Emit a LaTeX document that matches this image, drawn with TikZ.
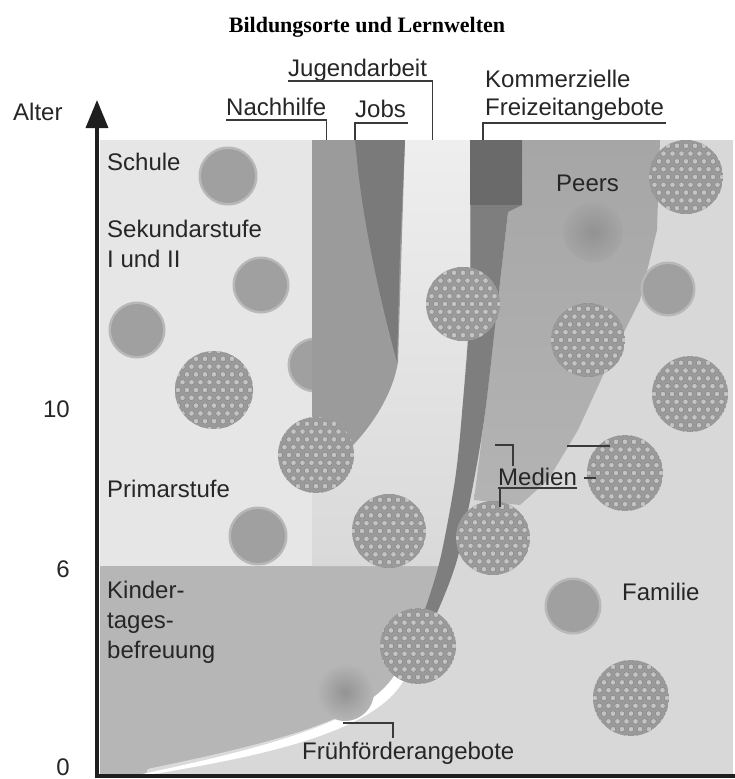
\documentclass[tikz,border=0pt]{standalone}
\usepackage{fontspec}
\setmainfont{Liberation Sans}
\newfontfamily\titlefont{Liberation Serif}
\usetikzlibrary{arrows.meta}
\definecolor{famil}{HTML}{D8D8D8}
\definecolor{schule}{HTML}{E6E6E6}
\definecolor{kita}{HTML}{B6B6B6}
\definecolor{jugtop}{HTML}{EEEEEE}
\definecolor{jugbot}{HTML}{D9D9D9}
\definecolor{nach}{HTML}{9B9B9B}
\definecolor{jobs}{HTML}{7A7A7A}
\definecolor{darktop}{HTML}{6A6A6A}
\definecolor{darkband}{HTML}{7E7E7E}
\definecolor{peers}{HTML}{A6A6A6}
\definecolor{ballplain}{HTML}{A0A0A0}
\definecolor{ballbase}{HTML}{9A9A9A}
\definecolor{hole}{HTML}{C4C4C4}
\definecolor{holeline}{HTML}{8A8A8A}
\definecolor{txt}{HTML}{262626}
\definecolor{ldr}{HTML}{3A3A3A}
\definecolor{axiscol}{HTML}{1E1E1E}
\newcommand\dotball[3]{%
  \begin{scope}
    \clip (#1,#2) circle[radius=#3];
    \fill[ballbase] (#1,#2) circle[radius=#3];
    \foreach \i in {-5,...,5}{
      \foreach \j in {-5,...,5}{
        \filldraw[fill=hole, draw=holeline, line width=0.6pt]
          ({#1+\i*9+4.5*mod(\j,2)},{#2+\j*7.8}) circle[radius=2.8];
      }}
  \end{scope}}
\newcommand\plainball[3]{%
  \fill[ballplain!75!white] (#1,#2) circle[radius=#3+1.5];
  \fill[ballplain] (#1,#2) circle[radius=#3-1];}
\begin{document}
\begin{tikzpicture}[x=1pt,y=-1pt,
  lbl/.style={font=\fontsize{24}{28}\selectfont, inner sep=0pt, anchor=base west, text=txt},
  leader/.style={draw=ldr, line width=1.1pt}]
\useasboundingbox (0,0) rectangle (735,779);
\fill[white] (0,0) rectangle (735,779);
\coordinate (topline) at (0,140);

\node[font=\titlefont\bfseries\fontsize{22}{26}\selectfont, anchor=base, text=black, inner sep=0pt] (title) at (367,32) {Bildungsorte und Lernwelten};

% regions
\fill[famil] (100,140) rectangle (733,776);
\fill[kita] (100,566) -- (440,566) -- (423,615) -- (410,645) -- (400,675)
  .. controls (370,725) and (260,750) .. (133,776) -- (100,776) -- cycle;
\fill[schule] (100,140) rectangle (312,566);
\shade[top color=jugtop, bottom color=jugbot] (312,140) -- (470,140) -- (470,300) -- (462,413)
  -- (455,480) -- (440,566) -- (312,566) -- cycle;
\shade[top color=peers, bottom color=peers!85!white] (522,140) -- (660,140) -- (657,230) -- (640,300) -- (610,360)
  -- (578,430) -- (548,480) -- (520,505) -- (474,500) -- (485,413) -- (498,300)
  -- (508,212) -- (522,205) -- cycle;
\plainball{315}{365}{26}
\fill[nach] (312,140) -- (405,140) -- (398,362) .. controls (390,410) and (350,455) .. (312,480) -- cycle;
\fill[jobs] (355,140) -- (405,140) -- (400,250) -- (397,362)
  .. controls (380,300) and (365,230) .. (358,170) -- cycle;
\fill[darkband] plot[smooth] coordinates {(470,140) (470,300) (462,413) (455,480) (440,560) (423,615) (410,648)}
  -- plot[smooth] coordinates {(418,648) (436,615) (457,560) (474,480) (485,413) (498,300) (508,212)}
  -- (522,205) -- (522,140) -- cycle;
\fill[darktop] (470,140) rectangle (522,205);

% white curve (Fruehfoerderangebote)
\draw[white, opacity=0.5, line width=7pt, line cap=round] (150,772) .. controls (265,748) and (370,724) .. (400,676);
\fill[white] (133,776) .. controls (260,749) and (366,723) .. (396,673) -- (405,678)
  .. controls (378,731) and (265,757) .. (133,777) -- cycle;

% balls
\begin{scope}
\clip (100,140) rectangle (733,776);
\plainball{228}{176}{28}
\plainball{261}{285}{27}
\plainball{137}{330}{27}
\plainball{258}{536}{28}
\plainball{668}{289}{26}
\plainball{573}{606}{27}
\shade[inner color=ballplain!92!black, outer color=kita] (345,692) circle[radius=29];
\shade[inner color=peers!88!black, outer color=peers] (593,232) circle[radius=30];
\dotball{214}{390}{39}
\dotball{316}{455}{38}
\dotball{389}{531}{37}
\dotball{418}{646}{38}
\dotball{493}{538}{37}
\dotball{463}{304}{37}
\dotball{686}{177}{37}
\dotball{588}{340}{37}
\dotball{690}{394}{38}
\dotball{625}{473}{38}
\dotball{631}{698}{38}
\end{scope}

% axes
\draw[axiscol, line width=3.5pt] (95,776) -- (735,776);
\draw[axiscol, line width=3.5pt, -{Triangle[width=22pt,length=28pt]}] (97,778) -- (97,100);

% labels
\node[lbl] (alter) at (13,120) {Alter};
\node[lbl, anchor=base east] (t10) at (70,417) {10};
\node[lbl, anchor=base east] (t6) at (70,577) {6};
\node[lbl, anchor=base east] (t0) at (70,775) {0};

\node[lbl] (jug) at (288,76) {Jugendarbeit};
\node[lbl] (nachl) at (226,115) {Nachhilfe};
\node[lbl] (jobsl) at (355,117) {Jobs};
\node[lbl] (komm) at (485,87) {Kommerzielle};
\node[lbl] (frei) at (485,115) {Freizeitangebote};
\node[lbl] (schulel) at (107,170) {Schule};
\node[lbl] (sek1) at (107,237) {Sekundarstufe};
\node[lbl] (sek2) at (107,267) {I und II};
\node[lbl] (prim) at (107,497) {Primarstufe};
\node[lbl] (kita1) at (107,598) {Kinder-};
\node[lbl] (kita2) at (107,628) {tages-};
\node[lbl] (kita3) at (107,658) {befreuung};
\node[lbl] (peersl) at (556,191) {Peers};
\node[lbl] (medien) at (498,485) {Medien};
\node[lbl] (fam) at (622,600) {Familie};
\node[lbl] (ff) at (302,759) {Frühförderangebote};

% leaders
\coordinate (jugW) at ([yshift=-5pt]jug.base west);
\coordinate (jugE) at ([xshift=5pt,yshift=-5pt]jug.base east);
\draw[leader] (jugW) -- (jugE) -- (jugE |- topline);
\coordinate (nachW) at ([yshift=-5pt]nachl.base west);
\coordinate (nachE) at ([yshift=-5pt]nachl.base east);
\draw[leader] (nachW) -- (nachE) -- (nachE |- topline);
\coordinate (jobsW) at ([yshift=-6pt]jobsl.base west);
\coordinate (jobsE) at ([xshift=2pt,yshift=-6pt]jobsl.base east);
\draw[leader] (jobsE) -- (jobsW) -- (jobsW |- topline);
\coordinate (freiW) at ([xshift=-2pt,yshift=-8pt]frei.base west);
\coordinate (freiE) at ([xshift=2pt,yshift=-8pt]frei.base east);
\draw[leader] (freiE) -- (freiW) -- (freiW |- topline);
\coordinate (medW) at ([yshift=-3pt]medien.base west);
\coordinate (medE) at ([yshift=-3pt]medien.base east);
\draw[leader] (medW) -- (medE);
\coordinate (medA) at (495,445);
\coordinate (medT) at ([xshift=15pt,yshift=19pt]medien.base west);
\draw[leader] (medA) -| (medT);
\coordinate (medB) at (567,446);
\coordinate (medC) at (610,446);
\draw[leader] (medB) -- (medC);
\coordinate (medD) at (500,507);
\draw[leader] ([xshift=2pt]medW) -- (medD |- medW) -- (medD);
\coordinate (medF) at (584,478);
\coordinate (medG) at (596,478);
\draw[leader] (medF) -- (medG);
\coordinate (ffc) at (343,723);
\coordinate (ffk) at (393,738);
\draw[leader] (ffc) -| (ffk);
\end{tikzpicture}
\end{document}
